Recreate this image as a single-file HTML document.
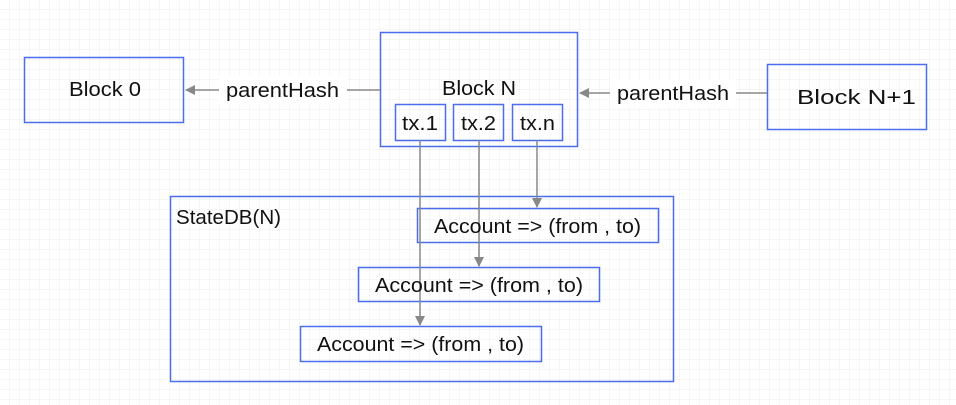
<!DOCTYPE html>
<html><head><meta charset="utf-8"><style>
html,body{margin:0;padding:0;background:#fff}
svg{display:block}
text{font-family:"Liberation Sans",sans-serif;font-size:20px;fill:#111}
</style></head><body>
<svg width="956" height="405" xmlns="http://www.w3.org/2000/svg">
<defs>
<pattern id="g" width="10" height="10" patternUnits="userSpaceOnUse">
<path d="M10 0V10M0 10H10" stroke="#ececec" stroke-width="1" fill="none"/>
</pattern>
<marker id="a" markerWidth="10" markerHeight="10" refX="9" refY="5" orient="auto" markerUnits="userSpaceOnUse">
<path d="M0 0L10 5L0 10z" fill="#888"/>
</marker>
</defs>
<rect width="956" height="405" fill="#fff"/>
<rect width="956" height="405" fill="url(#g)"/>
<g stroke="#4d6df0" stroke-width="1.5" fill="none">
<rect x="24.5" y="57.5" width="159" height="65"/>
<rect x="767.5" y="64.5" width="159" height="65"/>
<rect x="380.5" y="32.5" width="197" height="114"/>
<rect x="395.5" y="104.5" width="50" height="36"/>
<rect x="453.5" y="104.5" width="50" height="36"/>
<rect x="512.5" y="104.5" width="50" height="36"/>
<rect x="170.5" y="196.5" width="503" height="185"/>
<rect x="417.5" y="208.5" width="241" height="34"/>
<rect x="358.5" y="267.5" width="241" height="34"/>
<rect x="300.5" y="326.5" width="241" height="35"/>
</g>
<g stroke="#888" stroke-width="1.5" fill="none">
<line x1="380" y1="90" x2="186" y2="90" marker-end="url(#a)"/>
<line x1="767" y1="93" x2="580" y2="93" marker-end="url(#a)"/>
<line x1="420" y1="140" x2="420" y2="325" marker-end="url(#a)"/>
<line x1="479" y1="140" x2="479" y2="266" marker-end="url(#a)"/>
<line x1="537" y1="140" x2="537" y2="207" marker-end="url(#a)"/>
</g>
<rect x="219" y="76" width="128" height="28" fill="#fff"/>
<text x="226" y="97" textLength="113" lengthAdjust="spacingAndGlyphs">parentHash</text>
<rect x="610" y="79" width="126" height="28" fill="#fff"/>
<text x="617" y="100" textLength="112" lengthAdjust="spacingAndGlyphs">parentHash</text>
<text x="69" y="96" textLength="72" lengthAdjust="spacingAndGlyphs">Block 0</text>
<text x="797" y="104" textLength="119" lengthAdjust="spacingAndGlyphs">Block N+1</text>
<text x="442" y="95" textLength="74" lengthAdjust="spacingAndGlyphs">Block N</text>
<text x="402" y="130" textLength="36" lengthAdjust="spacingAndGlyphs">tx.1</text>
<text x="461" y="130" textLength="35" lengthAdjust="spacingAndGlyphs">tx.2</text>
<text x="520" y="130" textLength="35" lengthAdjust="spacingAndGlyphs">tx.n</text>
<text x="176" y="224" textLength="105" lengthAdjust="spacingAndGlyphs">StateDB(N)</text>
<text x="434" y="233" textLength="207" lengthAdjust="spacingAndGlyphs">Account =&gt; (from , to)</text>
<text x="375" y="292" textLength="208" lengthAdjust="spacingAndGlyphs">Account =&gt; (from , to)</text>
<text x="317" y="351" textLength="207" lengthAdjust="spacingAndGlyphs">Account =&gt; (from , to)</text>
</svg>
</body></html>
